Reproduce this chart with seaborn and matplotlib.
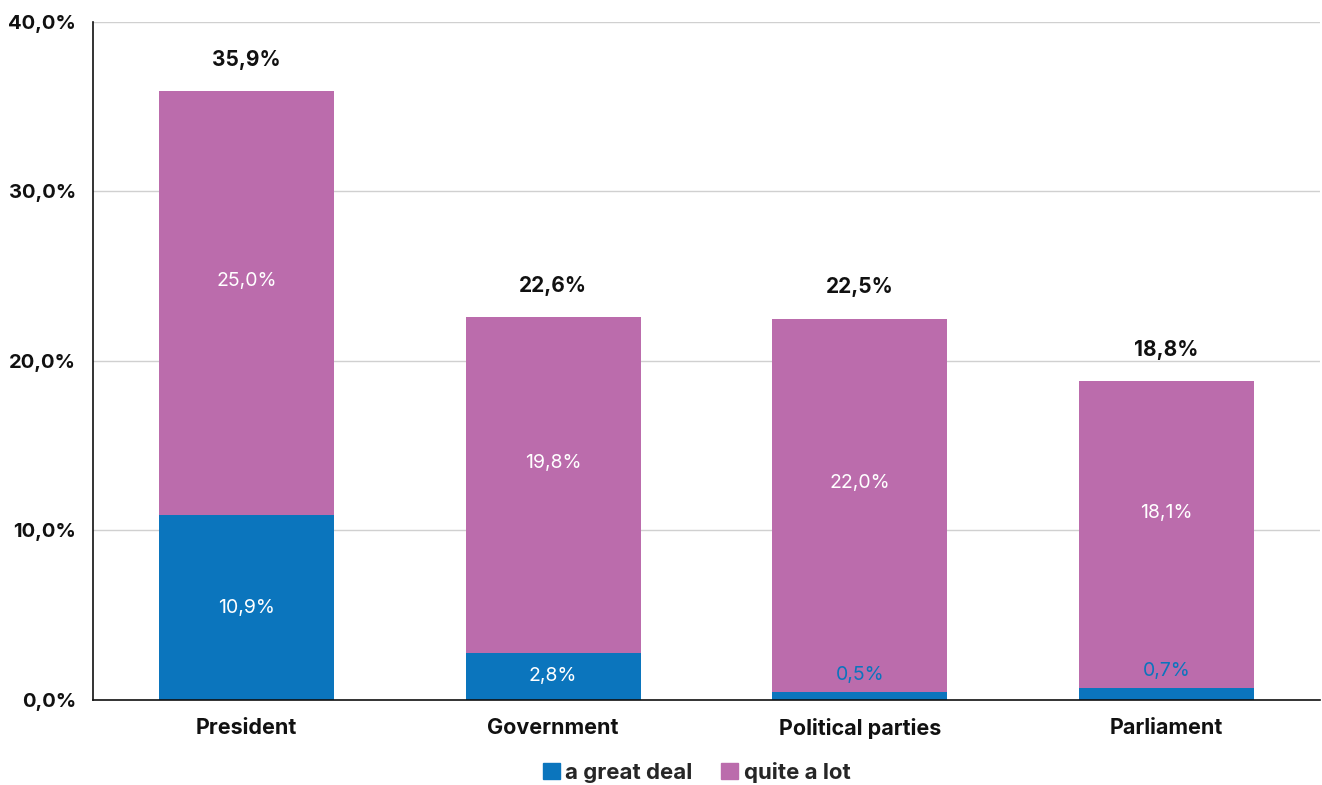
import matplotlib
matplotlib.use("Agg")
import matplotlib.pyplot as plt
from matplotlib.patches import Patch
import seaborn as sns
import pandas as pd

categories = ["President", "Government", "Political parties", "Parliament"]
great_deal = [10.9, 2.8, 0.5, 0.7]
quite_a_lot = [25.0, 19.8, 22.0, 18.1]
totals = [35.9, 22.6, 22.5, 18.8]
y_ticks = [0, 10, 20, 30, 40]

BLUE = "#0b75bd"
PINK = "#bb6cac"

sns.set_theme(style="white")
plt.rcParams["font.family"] = ["Inter", "DejaVu Sans"]

df = pd.DataFrame({"category": categories, "great": great_deal,
                   "lot": quite_a_lot, "total": totals})

fig = plt.figure(figsize=(13.22, 7.85), dpi=100)
ax = fig.add_axes([0.0703, 0.1083, 0.9282, 0.8637])

sns.barplot(data=df, x="category", y="great", color=BLUE, width=0.57,
            saturation=1, ax=ax, linewidth=0)
sns.barplot(data=df, x="category", y="lot", color=PINK, width=0.57,
            saturation=1, ax=ax, linewidth=0, bottom=df["great"])

ax.set_xlim(-0.5, 3.5)
ax.set_ylim(0, 40)
ax.set_yticks(y_ticks)
ax.set_yticklabels([f"{v:.1f}%".replace(".", ",") for v in y_ticks],
                   fontsize=14.5, fontweight="bold", color="#111111")
ax.set_xticks(range(len(categories)))
ax.set_xticklabels(categories, fontsize=15.5, fontweight="bold", color="#111111")
ax.tick_params(axis="x", pad=13, length=0)
ax.tick_params(axis="y", pad=12, length=0)
ax.set_xlabel("")
ax.set_ylabel("")
ax.yaxis.grid(True, color="#d0d0d0", linewidth=1)
ax.set_axisbelow(True)
for side in ["top", "right"]:
    ax.spines[side].set_visible(False)
for side in ["left", "bottom"]:
    ax.spines[side].set_visible(True)
    ax.spines[side].set_color("#111111")
    ax.spines[side].set_linewidth(1.2)


def fmt(v):
    return f"{v:.1f}%".replace(".", ",")


for i, (g, l, t) in enumerate(zip(great_deal, quite_a_lot, totals)):
    # bottom segment label: inside if it fits, otherwise just above in blue
    if g >= 2:
        ax.text(i, g / 2, fmt(g), ha="center", va="center",
                color="white", fontsize=14)
    else:
        ax.text(i, g + 1.0, fmt(g), ha="center", va="center",
                color=BLUE, fontsize=14)
    ax.text(i, g + l / 2 + 1.3, fmt(l), ha="center", va="center",
            color="white", fontsize=14)
    ax.text(i, t + 1.85, fmt(t), ha="center", va="center",
            color="#111111", fontsize=15, fontweight="bold")

handles = [Patch(color=BLUE, label="a great deal"),
           Patch(color=PINK, label="quite a lot")]
fig.legend(handles=handles, loc="center", bbox_to_anchor=(0.527, 0.016),
           ncol=2, frameon=False, handlelength=0.75, handleheight=0.75,
           handletextpad=0.25, columnspacing=1.3,
           prop={"size": 16, "weight": "bold"})

fig.savefig("out.png", dpi=100)
